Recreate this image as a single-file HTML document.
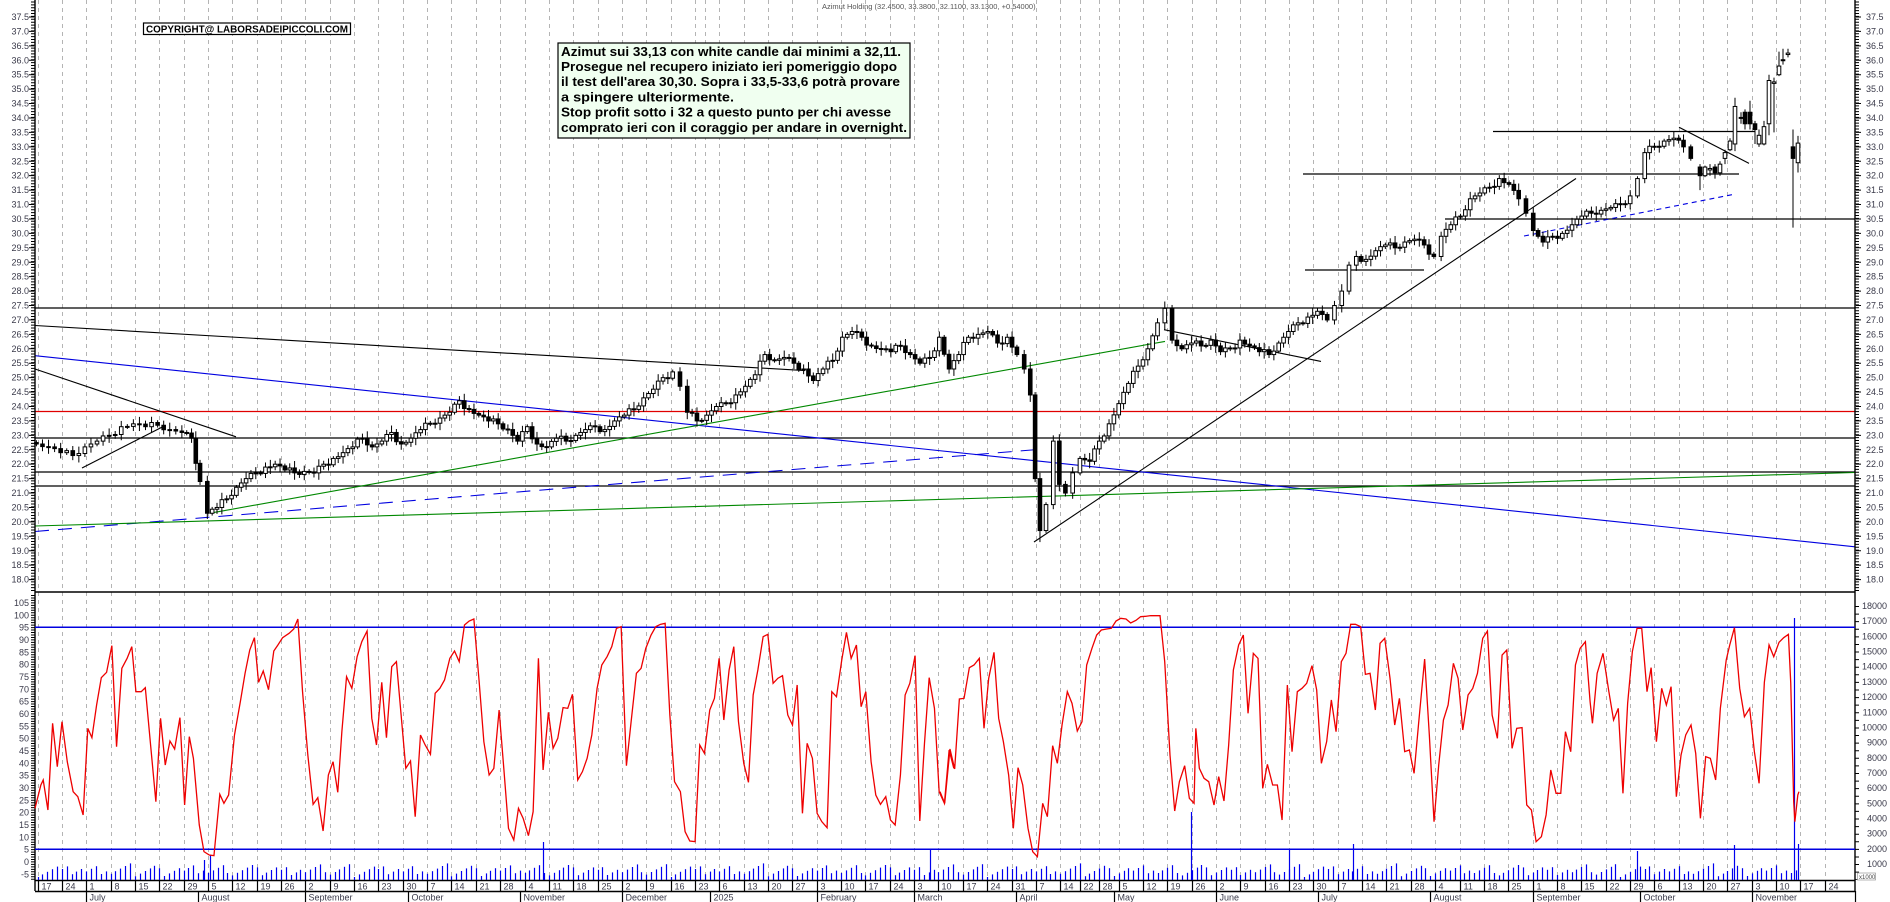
<!DOCTYPE html>
<html><head><meta charset="utf-8"><style>
html,body{margin:0;padding:0;background:#fff}
svg{display:block}
text{font-family:"Liberation Sans",Arial,sans-serif}
.lab{font-size:9px;fill:#3a3a4a}
</style></head><body>
<svg id="s" width="1890" height="902" viewBox="0 0 1890 902" xmlns="http://www.w3.org/2000/svg">
<rect width="1890" height="902" fill="#fff"/>
<g id="grid" stroke="#b4b4b4" stroke-width="1" stroke-dasharray="4,4"></g>

<g stroke-width="1.3">
<line x1="35" x2="1855" y1="308" y2="308" stroke="#000"/>
<line x1="35" x2="1855" y1="411.5" y2="411.5" stroke="#e00000"/>
<line x1="35" x2="1855" y1="438" y2="438" stroke="#000"/>
<line x1="35" x2="1855" y1="472" y2="472" stroke="#000"/>
<line x1="35" x2="1855" y1="486" y2="486" stroke="#000"/>
<line x1="1445" x2="1855" y1="219" y2="219" stroke="#000"/>
<line x1="1493" x2="1755" y1="131.5" y2="131.5" stroke="#000"/>
<line x1="1303" x2="1739" y1="174" y2="174" stroke="#000"/>
<line x1="1305" x2="1424" y1="270" y2="270" stroke="#000"/>
</g>
<g stroke-width="1.1" fill="none">
<line x1="35" y1="325.5" x2="805" y2="370.6" stroke="#000"/>
<line x1="35" y1="369" x2="236" y2="436.8" stroke="#000"/>
<line x1="82" y1="468" x2="165" y2="425.6" stroke="#000"/>
<line x1="35" y1="355.7" x2="1855" y2="546.8" stroke="#0000e0"/>
<line x1="35" y1="531.5" x2="1040" y2="449.3" stroke="#0000e0" stroke-dasharray="14,9"/>
<line x1="35" y1="526" x2="1855" y2="472.5" stroke="#008800"/>
<line x1="210" y1="513.2" x2="1165" y2="341.4" stroke="#008800"/>
<line x1="1034" y1="542" x2="1576" y2="178.5" stroke="#000"/>
<line x1="1164" y1="329.7" x2="1321" y2="361.4" stroke="#000"/>
<line x1="1524" y1="236" x2="1733" y2="194.5" stroke="#0000e0" stroke-dasharray="5,4"/>
<line x1="1679" y1="127.2" x2="1749" y2="163.4" stroke="#000"/>
</g>
<g id="candles"></g>

<g stroke="#000" stroke-width="1.4">
<line x1="35" y1="0" x2="35" y2="891"/>
<line x1="1855" y1="0" x2="1855" y2="891"/>
<line x1="35" y1="592" x2="1855" y2="592"/>
<line x1="35" y1="880.5" x2="1855" y2="880.5"/>
<line x1="35" y1="891.5" x2="1855" y2="891.5"/>
</g>
<g stroke="#000" fill="none">
<line x1="33" x2="33" y1="1.5" y2="592" stroke-width="4" stroke-dasharray="1,1.885"/>
<line x1="31.5" x2="31.5" y1="16.5" y2="592" stroke-width="5" stroke-dasharray="1,13.425"/>
<line x1="1857" x2="1857" y1="1.5" y2="592" stroke-width="4" stroke-dasharray="1,1.885"/>
<line x1="1858.5" x2="1858.5" y1="16.5" y2="592" stroke-width="5" stroke-dasharray="1,13.425"/>
<line x1="33" x2="33" y1="595" y2="880" stroke-width="4" stroke-dasharray="1,1.467"/>
<line x1="1857" x2="1857" y1="606" y2="880" stroke-width="4" stroke-dasharray="1,6.59"/>
</g>

<g stroke="#0000e0" stroke-width="1.5">
<line x1="35" x2="1855" y1="627.3" y2="627.3"/>
<line x1="35" x2="1855" y1="849.3" y2="849.3"/>
</g>
<g id="vol" stroke="#0000ee" stroke-width="1.2"></g>
<g transform="translate(35,595) scale(0.58673,0.33333)" fill="none" stroke="#ee0000">
<polyline vector-effect="non-scaling-stroke" stroke-width="1.3" points="0,640 10,570 14,555 22,645 30,385 38,515 46,380 55,500 65,590 73,605 82,660 90,400 97,428 105,330 113,248 122,232 131,152 139,455 148,220 157,190 165,155 172,290 181,290 188,278 197,450 206,620 214,370 222,510 230,438 238,462 247,368 255,630 263,425 270,490 280,690 288,770 297,780 305,782 315,598 322,625 330,600 340,420 350,320 358,235 366,165 374,128 381,262 389,228 398,284 407,168 414,150 422,128 433,115 441,102 448,72 456,290 465,480 474,628 482,608 491,708 500,540 508,500 516,592 523,410 531,245 540,280 549,185 557,140 566,108 574,370 582,450 591,262 599,428 608,215 616,200 624,360 632,520 640,498 648,665 657,420 665,450 674,478 682,295 690,280 698,255 707,190 715,168 723,200 732,90 740,78 748,72 757,260 765,440 774,540 782,520 791,345 799,520 807,700 816,735 824,640 832,670 841,722 849,650 858,190 866,525 875,352 883,460 891,430 900,338 908,340 916,298 925,555 933,530 941,490 949,420 958,280 966,210 975,185 983,155 991,100 999,95 1008,512 1016,380 1025,235 1033,220 1041,160 1050,120 1058,95 1066,88 1074,85 1082,360 1090,560 1100,590 1108,710 1116,738 1125,740 1133,450 1141,475 1150,345 1158,310 1166,190 1174,375 1183,225 1191,155 1199,380 1208,505 1216,562 1224,300 1232,225 1241,125 1249,118 1258,265 1266,250 1274,242 1283,360 1291,390 1299,270 1308,655 1316,445 1325,490 1333,655 1341,680 1350,698 1358,290 1366,305 1375,195 1383,112 1391,190 1400,150 1408,335 1416,290 1425,500 1433,600 1441,628 1450,605 1458,675 1466,690 1475,540 1483,300 1491,265 1500,182 1508,678 1516,445 1524,248 1533,340 1541,590 1550,625 1558,465 1566,520"/>
</g>
<g transform="translate(940,595) scale(0.58673,0.33333)" fill="none" stroke="#ee0000">
<polyline vector-effect="non-scaling-stroke" stroke-width="1.3" points="0,590 8,625 17,462 25,522 33,312 41,310 50,218 58,210 67,190 75,400 83,250 92,172 100,370 108,440 117,540 125,700 133,518 141,570 150,700 158,770 166,785 175,625 183,665 192,452 200,505 208,390 217,290 225,325 234,408 242,380 250,210 259,160 267,120 275,105 284,102 292,100 300,78 308,70 317,72 325,84 334,76 342,65 350,64 359,62 367,62 375,62 383,200 392,480 400,648 408,560 417,512 425,610 433,625 436,400 442,520 450,550 458,560 467,630 475,545 484,618 492,450 500,225 509,150 517,120 525,355 534,175 542,190 550,580 558,508 567,570 575,570 583,675 592,270 600,470 609,290 617,280 625,265 634,212 642,285 650,505 659,440 667,315 675,410 684,200 692,175 700,88 708,88 717,95 725,238 733,235 742,345 750,145 758,130 767,250 775,390 783,310 792,470 800,465 808,535 816,380 826,192 834,420 842,680 850,510 858,375 866,330 875,205 883,250 891,405 900,300 908,280 916,235 925,130 933,108 941,360 950,430 958,180 966,165 975,460 983,400 992,398 1000,630 1008,645 1016,740 1025,725 1033,660 1041,525 1050,595 1058,595 1066,410 1075,470 1083,210 1091,160 1100,140 1108,320 1112,385 1120,235 1130,175 1140,290 1148,375 1156,340 1164,595 1172,325 1180,170 1188,100 1196,100 1205,290 1212,218 1221,440 1230,280 1238,330 1246,275 1255,605 1263,480 1271,420 1280,390 1288,475 1296,670 1305,485 1313,490 1322,555 1330,340 1340,195 1346,150 1354,98 1363,280 1371,365 1380,340 1388,470 1396,565 1405,262 1413,150 1421,185 1430,142 1438,128 1446,118 1450,265 1455,620 1457,680 1462,600 1464,590"/>
</g>

<g class="lab" text-anchor="end">
<text x="29" y="20">37.5</text><text x="29" y="34.5">37.0</text><text x="29" y="48.9">36.5</text><text x="29" y="63.3">36.0</text><text x="29" y="77.7">35.5</text><text x="29" y="92.2">35.0</text><text x="29" y="106.6">34.5</text><text x="29" y="121">34.0</text><text x="29" y="135.4">33.5</text><text x="29" y="149.9">33.0</text><text x="29" y="164.3">32.5</text><text x="29" y="178.7">32.0</text><text x="29" y="193.1">31.5</text><text x="29" y="207.6">31.0</text><text x="29" y="222">30.5</text><text x="29" y="236.4">30.0</text><text x="29" y="250.8">29.5</text><text x="29" y="265.3">29.0</text><text x="29" y="279.7">28.5</text><text x="29" y="294.1">28.0</text><text x="29" y="308.5">27.5</text><text x="29" y="323">27.0</text><text x="29" y="337.4">26.5</text><text x="29" y="351.8">26.0</text><text x="29" y="366.2">25.5</text><text x="29" y="380.7">25.0</text><text x="29" y="395.1">24.5</text><text x="29" y="409.5">24.0</text><text x="29" y="423.9">23.5</text><text x="29" y="438.4">23.0</text><text x="29" y="452.8">22.5</text><text x="29" y="467.2">22.0</text><text x="29" y="481.6">21.5</text><text x="29" y="496.1">21.0</text><text x="29" y="510.5">20.5</text><text x="29" y="524.9">20.0</text><text x="29" y="539.3">19.5</text><text x="29" y="553.8">19.0</text><text x="29" y="568.2">18.5</text><text x="29" y="582.6">18.0</text>
</g>
<g class="lab">
<text x="1866" y="20">37.5</text><text x="1866" y="34.5">37.0</text><text x="1866" y="48.9">36.5</text><text x="1866" y="63.3">36.0</text><text x="1866" y="77.7">35.5</text><text x="1866" y="92.2">35.0</text><text x="1866" y="106.6">34.5</text><text x="1866" y="121">34.0</text><text x="1866" y="135.4">33.5</text><text x="1866" y="149.9">33.0</text><text x="1866" y="164.3">32.5</text><text x="1866" y="178.7">32.0</text><text x="1866" y="193.1">31.5</text><text x="1866" y="207.6">31.0</text><text x="1866" y="222">30.5</text><text x="1866" y="236.4">30.0</text><text x="1866" y="250.8">29.5</text><text x="1866" y="265.3">29.0</text><text x="1866" y="279.7">28.5</text><text x="1866" y="294.1">28.0</text><text x="1866" y="308.5">27.5</text><text x="1866" y="323">27.0</text><text x="1866" y="337.4">26.5</text><text x="1866" y="351.8">26.0</text><text x="1866" y="366.2">25.5</text><text x="1866" y="380.7">25.0</text><text x="1866" y="395.1">24.5</text><text x="1866" y="409.5">24.0</text><text x="1866" y="423.9">23.5</text><text x="1866" y="438.4">23.0</text><text x="1866" y="452.8">22.5</text><text x="1866" y="467.2">22.0</text><text x="1866" y="481.6">21.5</text><text x="1866" y="496.1">21.0</text><text x="1866" y="510.5">20.5</text><text x="1866" y="524.9">20.0</text><text x="1866" y="539.3">19.5</text><text x="1866" y="553.8">19.0</text><text x="1866" y="568.2">18.5</text><text x="1866" y="582.6">18.0</text>
</g>
<g class="lab" text-anchor="end">
<text x="29" y="606">105</text><text x="29" y="618.3">100</text><text x="29" y="630.6">95</text><text x="29" y="643">90</text><text x="29" y="655.3">85</text><text x="29" y="667.6">80</text><text x="29" y="680">75</text><text x="29" y="692.3">70</text><text x="29" y="704.6">65</text><text x="29" y="716.9">60</text><text x="29" y="729.3">55</text><text x="29" y="741.6">50</text><text x="29" y="753.9">45</text><text x="29" y="766.3">40</text><text x="29" y="778.6">35</text><text x="29" y="790.9">30</text><text x="29" y="803.3">25</text><text x="29" y="815.6">20</text><text x="29" y="827.9">15</text><text x="29" y="840.3">10</text><text x="29" y="852.6">5</text><text x="29" y="864.9">0</text><text x="29" y="877.3">-5</text>
</g>
<g class="lab" text-anchor="end">
<text x="1887" y="609">18000</text><text x="1887" y="624.2">17000</text><text x="1887" y="639.4">16000</text><text x="1887" y="654.5">15000</text><text x="1887" y="669.7">14000</text><text x="1887" y="684.9">13000</text><text x="1887" y="700.1">12000</text><text x="1887" y="715.3">11000</text><text x="1887" y="730.4">10000</text><text x="1887" y="745.6">9000</text><text x="1887" y="760.8">8000</text><text x="1887" y="776">7000</text><text x="1887" y="791.2">6000</text><text x="1887" y="806.3">5000</text><text x="1887" y="821.5">4000</text><text x="1887" y="836.7">3000</text><text x="1887" y="851.9">2000</text><text x="1887" y="867.1">1000</text>
</g>
<rect x="1857.5" y="873" width="18" height="7" fill="#fff" stroke="#888" stroke-width="0.6"/>
<text x="1859" y="879" style="font-size:6px;fill:#444">x1000</text>

<g id="xaxis" class="lab"></g>

<text x="822" y="9" style="font-size:7.5px;fill:#555">Azimut Holding (32.4500, 33.3800, 32.1100, 33.1300, +0.54000)</text>
<rect x="143.5" y="23" width="207" height="11.5" fill="#fff" stroke="#000" stroke-width="1.2"/>
<text x="146" y="32.5" textLength="202" lengthAdjust="spacingAndGlyphs" style="font-size:10px;font-weight:bold;fill:#000">COPYRIGHT@ LABORSADEIPICCOLI.COM</text>
<rect x="558" y="43" width="352" height="95" fill="#f0fff0" stroke="#000" stroke-width="1.2"/>
<g style="font-size:12.5px;font-weight:bold;fill:#000">
<text x="561" y="56" textLength="340" lengthAdjust="spacingAndGlyphs">Azimut sui 33,13 con white candle dai minimi a 32,11.</text>
<text x="561" y="71" textLength="336" lengthAdjust="spacingAndGlyphs">Prosegue nel recupero iniziato ieri pomeriggio dopo</text>
<text x="561" y="86.2" textLength="339" lengthAdjust="spacingAndGlyphs">il test dell'area 30,30. Sopra i 33,5-33,6 potrà provare</text>
<text x="561" y="101.4" textLength="173" lengthAdjust="spacingAndGlyphs">a spingere ulteriormente.</text>
<text x="561" y="116.6" textLength="330" lengthAdjust="spacingAndGlyphs">Stop profit sotto i 32 a questo punto per chi avesse</text>
<text x="561" y="131.8" textLength="346" lengthAdjust="spacingAndGlyphs">comprato ieri con il coraggio per andare in overnight.</text>
</g>
</svg>
<script>
(function(){
var NS="http://www.w3.org/2000/svg";
function el(n,a,p){var e=document.createElementNS(NS,n);for(var k in a)e.setAttribute(k,a[k]);p.appendChild(e);return e;}
var D=[];for(var i=0;i < 76;i++){var H=i<=27?0:(i==28?3:(i<=43?5:(i==44?6:(i==45?7:8))));D.push(37.5+4.87*(5*i-H));}
var labs="17,24,1,8,15,22,29,5,12,19,26,2,9,16,23,30,7,14,21,28,4,11,18,25,2,9,16,23,30,6,13,20,27,3,10,17,24,3,10,17,24,31,7,14,22,28,5,12,19,26,2,9,16,23,30,7,14,21,28,4,11,18,25,1,8,15,22,29,6,13,20,27,3,10,17,24".split(",");
var g=document.getElementById("grid"),xa=document.getElementById("xaxis");
for(var i=0;i < 76;i++){var x=Math.round(D[i])+0.5;
 el("line",{x1:x,x2:x,y1:0,y2:880},g);
 if(i==28)continue;
 el("line",{x1:x,x2:x,y1:880,y2:891,stroke:"#000","stroke-width":1.2},xa);
 var t=el("text",{x:x+3,y:889.5},xa);t.textContent=labs[i];}
var M=[[86.2,"July"],[198.2,"August"],[305.4,"September"],[407.7,"October"],[519.7,"November"],[621.9,"December"],[709.6,"2025"],[816.7,"February"],[914.1,"March"],[1016.4,"April"],[1113.8,"May"],[1216,"June"],[1318.3,"July"],[1430.3,"August"],[1532.6,"September"],[1639.7,"October"],[1751.7,"November"]];
M.forEach(function(m){var x=Math.round(m[0])+0.5;el("line",{x1:x,x2:x,y1:891,y2:902,stroke:"#000","stroke-width":1.2},xa);var t=el("text",{x:x+3,y:900.5},xa);t.textContent=m[1];});
var xe=1855.5;el("line",{x1:xe,x2:xe,y1:891,y2:902,stroke:"#000","stroke-width":1.2},xa);
var c=document.getElementById("candles");
function Y(p){return 1098.9-28.85*p;}
var s="35:22.7,45:22.6,55:22.4,65:22.3,75:22.6,85:22.8,95:23.0,105:23.3,115:23.4,125:23.3,135:23.35,145:23.2,155:23.1,163:22.9,170:21.4,176:20.3,184:20.5,192:20.8,200:21.2,208:21.5,216:21.7,224:21.9,232:22.0,240:21.8,248:21.7,256:21.75,264:21.7,272:22.0,280:22.2,288:22.4,296:22.6,304:22.9,312:22.6,320:22.8,328:23.1,336:22.7,344:22.9,352:23.2,360:23.4,368:23.6,376:23.8,384:24.2,392:23.9,400:23.7,408:23.5,416:23.4,424:23.2,432:22.8,440:23.3,448:22.7,456:22.6,464:22.9,472:22.8,480:23.0,488:23.2,496:23.3,504:23.2,512:23.5,520:23.7,528:23.9,536:24.3,544:24.6,552:25.0,560:25.2,566:24.7,572:23.8,580:23.5,588:23.7,596:24.0,604:24.1,612:24.4,620:24.7,628:25.1,636:25.8,644:25.6,652:25.7,660:25.5,668:25.3,676:24.9,684:25.3,692:25.6,700:26.4,708:26.6,716:26.4,724:26.1,732:26.0,740:25.9,748:26.1,756:25.8,764:25.5,772:25.7,780:26.4,788:25.3,796:25.8,804:26.4,812:26.5,820:26.6,828:26.2,836:26.4,844:25.8,850:25.3,855:24.4,859:21.5,863:19.7,868:20.6,874:22.8,879:21.3,884:21.0,890:21.7,896:22.2,904:22.1,912:22.8,920:23.4,928:24.1,936:24.8,944:25.4,952:26.0,960:26.9,966:27.4,972:26.3,980:26.0,988:26.2,996:26.1,1004:26.3,1012:25.9,1020:26.0,1028:26.3,1036:26.1,1044:25.9,1052:25.8,1060:26.2,1068:26.6,1076:26.9,1084:27.1,1092:27.3,1100:27.0,1106:27.5,1112:28.0,1118:28.9,1124:29.2,1132:29.1,1140:29.4,1148:29.6,1156:29.5,1164:29.7,1172:29.8,1180:29.6,1188:29.2,1194:29.9,1202:30.3,1210:30.6,1218:31.2,1226:31.4,1234:31.6,1242:31.9,1250:31.7,1258:31.2,1264:30.7,1270:30.1,1278:29.7,1286:29.9,1294:30.0,1302:30.3,1310:30.6,1318:30.7,1326:30.8,1334:30.9,1342:31.0,1350:31.3,1356:31.9,1362:32.8,1370:33.0,1378:33.2,1386:33.3,1394:33.0,1400:32.6";
var arr=s.split(",").map(function(q){var a=q.split(":");return [1.212*(+a[0])-6,+a[1]];});
var dense=[];
for(var i=0;i < arr.length;i++){
 if(i>0 && arr[i][0]-arr[i-1][0]>8){var mx=(arr[i][0]+arr[i-1][0])/2;var jit=((i*37)%7-3)*0.04;dense.push([mx,(arr[i][1]+arr[i-1][1])/2+jit]);}
 dense.push(arr[i]);}
var C=[];var prev=22.75;
dense.forEach(function(a,i){var o=prev,cl=a[1];var w=0.08+((i*7)%5)*0.04;C.push([a[0],o,cl,Math.max(o,cl)+w,Math.min(o,cl)-w]);prev=cl;});
C.forEach(function(k){if(Math.abs(k[2]-19.7)<0.01){k[4]=19.3;}if(Math.abs(k[2]-21.5)<0.01 && k[0]>1000){k[3]=24.5;}if(Math.abs(k[2]-22.8)<0.01 && k[0]>1000 && k[0]<1100){k[3]=23.0;}});
var T=[[1700,32.3,32.0,32.4,31.5],[1705,32.0,32.3,32.35,31.95],[1710,32.2,32.25,32.4,32.0],[1715,32.3,32.1,32.4,31.9],[1720,32.1,32.4,32.5,32.0],[1725,32.6,32.8,32.9,32.4],[1730,32.9,33.2,33.3,32.85],[1735,33.1,34.4,34.7,32.85],[1741,34.0,34.02,34.2,33.8],[1745,34.2,33.8,34.3,33.6],[1750,34.2,33.8,34.6,33.6],[1755,33.8,33.6,33.9,33.1],[1759,33.1,33.4,33.6,33.0],[1764,33.1,33.7,33.9,33.05],[1769,33.8,35.3,35.5,33.4],[1774,35.2,35.25,35.4,33.5],[1779,35.5,35.8,36.3,35.45],[1783,36.02,36.0,36.4,35.85],[1788,36.2,36.25,36.4,36.1],[1793,33.0,32.6,33.6,30.2],[1798,32.45,33.13,33.38,32.11]];
C=C.concat(T);
C.forEach(function(k){var x=k[0],o=k[1],cl=k[2];var top=Y(Math.max(o,cl)),bot=Y(Math.min(o,cl));var h=Math.max(1,bot-top);
 el("line",{x1:x,x2:x,y1:Y(k[3]),y2:Y(k[4]),stroke:"#000","stroke-width":1},c);
 el("rect",{x:x-1.8,y:top,width:3.6,height:h,fill:cl>=o?"#fff":"#000",stroke:"#000","stroke-width":1},c);});
var v=document.getElementById("vol");
for(var k=0;k < 362;k++){var x=Math.round(37.5+4.87*k)+0.5;var h=3+((k*7919)%13)*0.8+((k*31)%5);
 el("line",{x1:x,x2:x,y1:880,y2:880-h},v);}
[[204,20],[210,25],[543,38],[930,31],[1191,68],[1289,31],[1353,36],[1637,29],[1734,35],[1794,262],[1798,36]].forEach(function(p){el("line",{x1:p[0]+0.5,x2:p[0]+0.5,y1:880,y2:880-p[1]},v);});
})();
</script>
</body></html>
